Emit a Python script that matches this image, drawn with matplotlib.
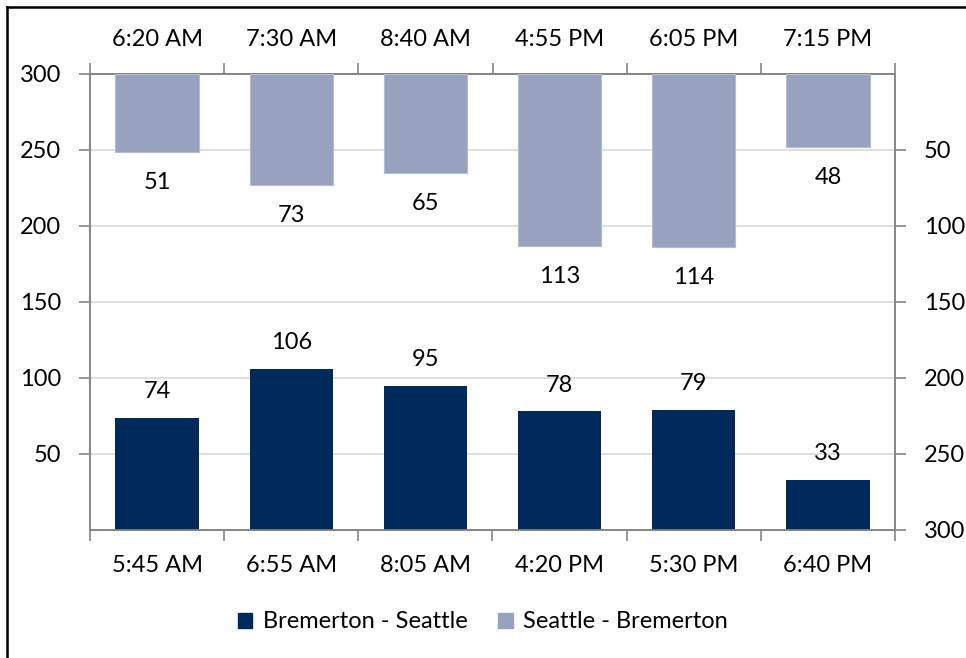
import matplotlib
matplotlib.use("Agg")
import matplotlib.pyplot as plt
from matplotlib.lines import Line2D
from matplotlib.patches import Patch
import numpy as np

plt.rcParams['font.family'] = ['Lato', 'DejaVu Sans']

# Departure times and passenger counts for each direction
bremerton_times = ["5:45 AM", "6:55 AM", "8:05 AM", "4:20 PM", "5:30 PM", "6:40 PM"]
bremerton_seattle = [74, 106, 95, 78, 79, 33]
seattle_times = ["6:20 AM", "7:30 AM", "8:40 AM", "4:55 PM", "6:05 PM", "7:15 PM"]
seattle_bremerton = [51, 73, 65, 113, 114, 48]
y_ticks = [50, 100, 150, 200, 250, 300]

dark = "#002A5C"
light = "#98A2BE"
axis_gray = "#868686"
grid_gray = "#D9D9D9"
fs = 17

fig = plt.figure(figsize=(9.66, 6.58), dpi=100)
ax1 = fig.add_axes([90/966, 1-530/658, (895-90)/966, (530-74)/658])
ax2 = ax1.twinx()

x = np.arange(len(bremerton_times))
width = 0.62

# Lower series grows upward on the left axis
bars1 = ax1.bar(x, bremerton_seattle, width, color=dark, zorder=3)
ax1.set_ylim(0, 300)
ax1.set_xlim(-0.5, len(x) - 0.5)
ax1.set_yticks(y_ticks)
ax1.grid(axis='y', color=grid_gray, linewidth=1.2, zorder=0)
ax1.set_axisbelow(True)

# Upper series hangs down from the top on the inverted right axis
bars2 = ax2.bar(x, seattle_bremerton, width, color=light, edgecolor="#B4BCD2",
                linewidth=0.8, zorder=3)
ax2.set_ylim(300, 0)
ax2.set_yticks(y_ticks)

for v, xi in zip(bremerton_seattle, x):
    ax1.annotate(str(v), (xi, v), xytext=(0, 19), textcoords='offset points',
                 ha='center', va='center', fontsize=fs)
for v, xi in zip(seattle_bremerton, x):
    ax2.annotate(str(v), (xi, v), xytext=(0, -22), textcoords='offset points',
                 ha='center', va='center', fontsize=fs)

# Category axes: boundary tick marks, labels centred on each bar
bounds = np.arange(-0.5, len(x), 1.0)
ax1.set_xticks(bounds)
ax1.set_xticklabels([])
ax1.set_xticks(x, minor=True)
ax1.set_xticklabels(bremerton_times, minor=True, fontsize=fs)
ax1.tick_params(axis='x', which='major', length=8, width=1.2, color=axis_gray, direction='out')
ax1.tick_params(axis='x', which='minor', length=0, pad=18)

top = ax1.secondary_xaxis('top')
top.set_xticks(bounds)
top.set_xticklabels([])
top.set_xticks(x, minor=True)
top.set_xticklabels(seattle_times, minor=True, fontsize=fs)
top.tick_params(axis='x', which='major', length=8, width=1.2, color=axis_gray, direction='out')
top.tick_params(axis='x', which='minor', length=0, pad=17)
top.spines['top'].set_color(axis_gray)
top.spines['top'].set_linewidth(1.2)

ax1.tick_params(axis='y', length=8, width=1.2, color=axis_gray, pad=13, labelsize=fs)
ax2.tick_params(axis='y', length=8, width=1.2, color=axis_gray, pad=13, labelsize=fs)

for ax in (ax1, ax2):
    for s in ax.spines.values():
        s.set_color(axis_gray)
        s.set_linewidth(1.2)

# Legend below the plot
handles = [Patch(facecolor=dark, edgecolor=dark, label="Bremerton - Seattle"),
           Patch(facecolor=light, edgecolor=light, label="Seattle - Bremerton")]
fig.legend(handles=handles, loc='center', bbox_to_anchor=(0.5, 1 - 622/658),
           ncol=2, frameon=False, fontsize=fs, handlelength=0.6, handleheight=0.6,
           handletextpad=0.45, columnspacing=1.3)

# Outer frame (left and top edges visible)
fig.add_artist(Line2D([7/966, 7/966], [0, 1 - 7/658], color='black', linewidth=1.8,
                      transform=fig.transFigure))
fig.add_artist(Line2D([7/966, 1], [1 - 7/658, 1 - 7/658], color='black', linewidth=1.8,
                      transform=fig.transFigure))

fig.savefig("out.png", dpi=100)
